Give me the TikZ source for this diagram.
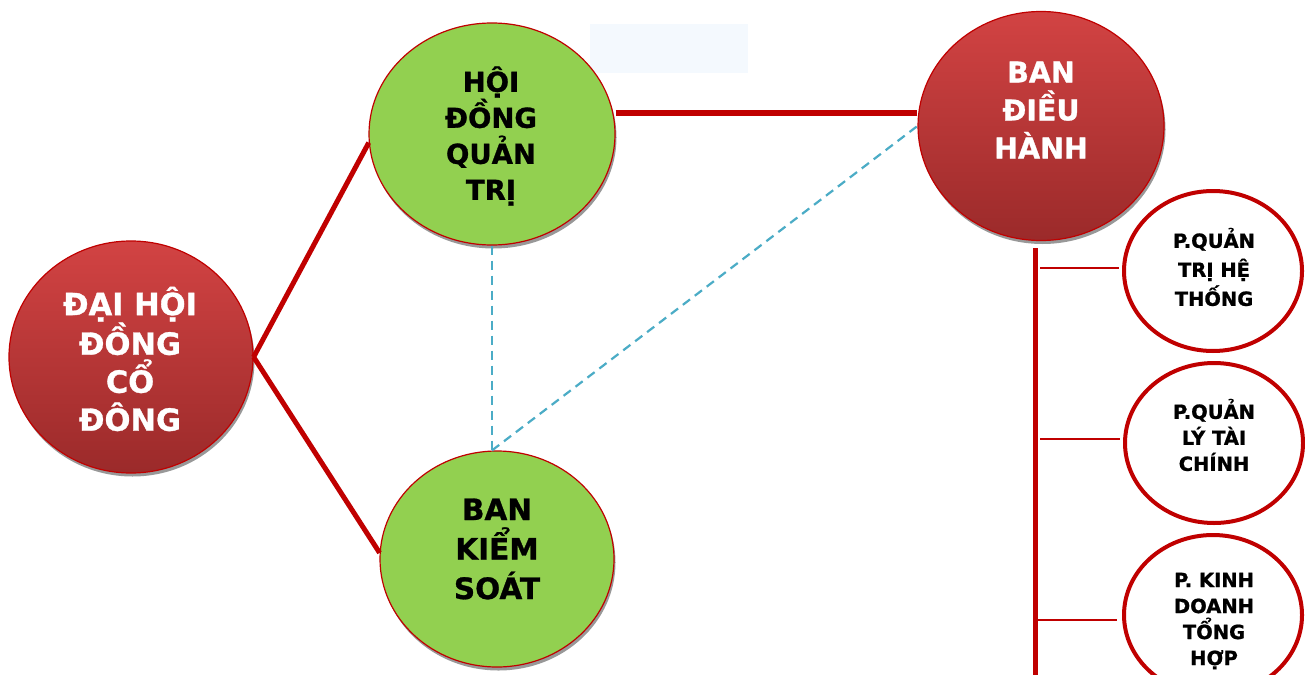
\documentclass[tikz,border=0pt]{standalone}
\usepackage{fontspec}
\setmainfont{DejaVu Sans}[BoldFeatures={FakeBold=1}]
\usetikzlibrary{shapes.geometric,shadows}
\definecolor{dred}{HTML}{C00000}
\definecolor{rtop}{HTML}{D24343}
\definecolor{rbot}{HTML}{9B2A2A}
\definecolor{lgreen}{HTML}{92D050}
\definecolor{dashblue}{HTML}{4BACC6}
\definecolor{paleblue}{HTML}{F4F9FE}
\begin{document}
\begin{tikzpicture}[x=1pt,y=-1pt,
  ballshadow/.style={drop shadow={shadow xshift=1.5pt,shadow yshift=-3.5pt,opacity=0.5,fill=black!80}},
  redball/.style={ellipse, draw=dred, line width=1.2pt, top color=rtop, bottom color=rbot, inner sep=0pt, ballshadow},
  greenball/.style={ellipse, draw=dred, line width=1.2pt, fill=lgreen, inner sep=0pt, ballshadow},
  deptball/.style={ellipse, draw=dred, line width=4pt, fill=white, inner sep=0pt, minimum width=178pt, minimum height=160pt},
  bigwhite/.style={text=white, align=center, inner sep=0pt},
  bigblack/.style={text=black, align=center, inner sep=0pt},
  thickred/.style={draw=dred, line width=5pt},
  thinred/.style={draw=dred, line width=1.8pt},
  dashlink/.style={draw=dashblue, line width=2.2pt, dash pattern=on 9pt off 6pt}
]
\useasboundingbox (0,0) rectangle (1305,674);
\fill[white] (0,0) rectangle (1305,674);
\clip (0,0) rectangle (1305,674);

% pale box at top
\node[fill=paleblue, minimum width=158pt, minimum height=49pt, inner sep=0pt] (pale) at (669,48.5) {};

% coordinates for connectors
\coordinate (hline) at (0,113);
\coordinate (vtop) at (1035,248);
\coordinate (vbot) at (1035,690);

% main circles
\node[redball, minimum width=244pt, minimum height=232pt] (dh) at (131,357) {};
\node[greenball, minimum width=246pt, minimum height=222pt] (hd) at (492,134) {};
\node[greenball, minimum width=234pt, minimum height=216pt] (bks) at (497,559) {};
\node[redball, minimum width=246pt, minimum height=229pt] (bdh) at (1041,126) {};

% department circles
\node[deptball] (c1) at (1213,271) {};
\node[deptball] (c2) at (1214,443) {};
\node[deptball] (c3) at (1213,615) {};

% connectors
\draw[thickred] (dh.east) -- (hd.184);
\draw[thickred] (dh.east) -- (bks.177);
\draw[thickred, line width=6pt] (hd.east |- hline) -- (bdh.west |- hline);
\coordinate (junc) at (hd.south |- bks.north);
\draw[dashlink] (hd.south) -- (junc);
\draw[dashlink] (junc) -- (bdh.west);
\draw[thickred] (vtop) -- (vbot);
\coordinate (b1) at (1040,268);
\coordinate (b2) at (1040,439);
\coordinate (b3) at (1037,620);
\draw[thinred] (b1) -- ([xshift=-3pt]c1.west |- b1);
\draw[thinred] (b2) -- ([xshift=-3pt]c2.west |- b2);
\draw[thinred] (b3) -- ([xshift=-5pt]c3.west |- b3);

% texts
\node[bigwhite, font=\bfseries\fontsize{30.5pt}{38pt}\selectfont] (tdh) at (130,359) {ĐẠI HỘI\\ĐỒNG\\CỔ\\ĐÔNG};
\node[bigblack, font=\bfseries\fontsize{27.5pt}{36pt}\selectfont] (thd) at (491,136) {HỘI\\ĐỒNG\\QUẢN\\TRỊ};
\node[bigblack, font=\bfseries\fontsize{29.5pt}{39.5pt}\selectfont] (tbks) at (497,549) {BAN\\KIỂM\\SOÁT};
\node[bigwhite, font=\bfseries\fontsize{28.5pt}{38pt}\selectfont] (tbdh) at (1041,110) {BAN\\ĐIỀU\\HÀNH};
\node[bigblack, font=\bfseries\fontsize{19.5pt}{29pt}\selectfont] (t1) at (1214,267) {P.QUẢN\\TRỊ HỆ\\THỐNG};
\node[bigblack, font=\bfseries\fontsize{19.5pt}{26pt}\selectfont] (t2) at (1214,435) {P.QUẢN\\LÝ TÀI\\CHÍNH};
\node[bigblack, font=\bfseries\fontsize{19.5pt}{26pt}\selectfont] (t3) at (1214,621) {P. KINH\\DOANH\\TỔNG\\HỢP};
\end{tikzpicture}
\end{document}
